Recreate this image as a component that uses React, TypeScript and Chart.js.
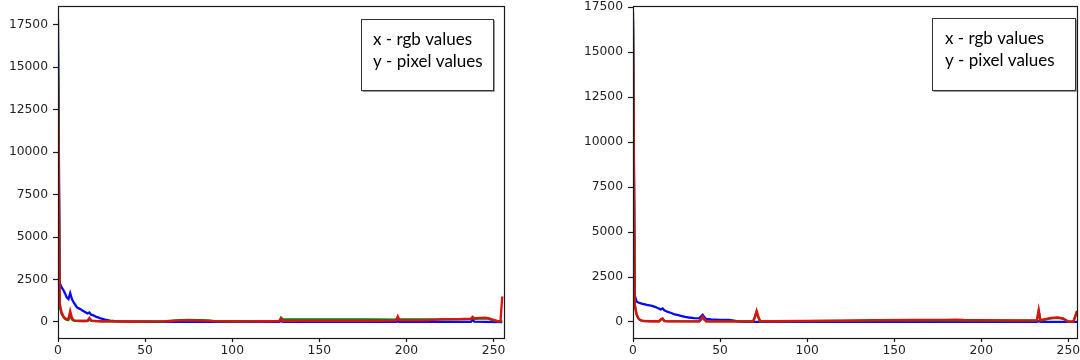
import React, { useEffect, useRef } from "react";
import { Chart, registerables } from "chart.js";

Chart.register(...registerables);

// ---------- text / ticks ----------
const LEGEND_LINES = ["x - rgb values", "y - pixel values"];
const X_TICKS = [0, 50, 100, 150, 200, 250];
const Y_TICKS = [0, 2500, 5000, 7500, 10000, 12500, 15000, 17500];

// ---------- left panel data (x = rgb value, y = pixel count) ----------
const leftBlueX = [0, 1, 2, 3, 4, 5, 6, 7, 8, 9, 10, 11, 12, 13, 14, 15, 16, 17, 18, 19, 20, 21, 22, 23, 24, 25, 26, 27, 28, 29, 30, 32, 35, 40, 50, 60, 80, 100, 127, 128, 129, 150, 194, 195, 196, 220, 237, 238, 239, 245, 255];
const leftBlueY = [17800, 2300, 2050, 1900, 1700, 1450, 1350, 1700, 1350, 1150, 1000, 850, 800, 750, 680, 620, 560, 500, 560, 430, 400, 350, 300, 270, 230, 200, 170, 140, 120, 100, 80, 60, 40, 25, 15, 10, 10, 10, 10, 60, 10, 10, 10, 40, 10, 10, 15, 110, 20, 10, 0];

const leftGreenX = [0, 1, 2, 3, 4, 5, 6, 7, 8, 9, 12, 17, 18, 19, 25, 40, 60, 65, 70, 75, 80, 85, 90, 100, 127, 128, 129, 140, 160, 180, 194, 195, 196, 220, 237, 238, 239, 245, 247, 250, 253, 255];
const leftGreenY = [16000, 900, 500, 300, 180, 120, 110, 400, 150, 80, 60, 60, 150, 60, 40, 35, 40, 70, 110, 120, 110, 90, 50, 45, 60, 250, 150, 160, 160, 150, 140, 250, 150, 160, 170, 230, 180, 220, 200, 100, 20, 60];

const leftRedX = [0, 1, 2, 3, 4, 5, 6, 7, 8, 9, 10, 12, 15, 17, 18, 19, 20, 25, 30, 40, 50, 60, 65, 70, 75, 80, 85, 90, 100, 110, 120, 127, 128, 129, 140, 160, 180, 194, 195, 196, 210, 220, 230, 237, 238, 239, 242, 245, 247, 250, 253, 254, 255];
const leftRedY = [14500, 1100, 600, 350, 220, 180, 200, 650, 250, 100, 80, 70, 60, 80, 240, 100, 60, 45, 35, 30, 25, 35, 60, 90, 100, 90, 80, 50, 40, 40, 45, 50, 200, 60, 65, 70, 70, 80, 330, 90, 100, 150, 170, 190, 300, 210, 240, 260, 230, 120, 40, 60, 1500];

// ---------- right panel data ----------
const rightBlueX = [0, 1, 2, 3, 5, 8, 11, 13, 15, 16, 17, 18, 20, 22, 24, 26, 28, 30, 32, 35, 38, 39, 40, 41, 42, 45, 50, 55, 58, 60, 65, 100, 150, 200, 232, 233, 234, 255];
const rightBlueY = [17200, 1500, 1150, 1080, 1020, 950, 890, 830, 740, 700, 750, 650, 560, 500, 420, 380, 330, 280, 250, 220, 200, 300, 400, 250, 170, 140, 120, 110, 80, 30, 10, 5, 5, 5, 5, 40, 5, 5];

const rightGreenX = [0, 1, 2, 3, 4, 6, 15, 16, 17, 18, 38, 39, 40, 41, 42, 69, 70, 71, 72, 73, 100, 150, 200, 232, 233, 234, 240, 244, 247, 250, 253, 255];
const rightGreenY = [16500, 950, 420, 200, 110, 55, 35, 130, 170, 50, 30, 120, 260, 120, 35, 35, 250, 550, 250, 40, 50, 90, 80, 80, 600, 80, 200, 230, 180, 20, 40, 560];

const rightRedX = [0, 1, 2, 3, 4, 5, 6, 10, 15, 16, 17, 18, 20, 30, 38, 39, 40, 41, 42, 50, 60, 69, 70, 71, 72, 73, 80, 100, 120, 140, 160, 180, 185, 190, 200, 220, 232, 233, 234, 236, 240, 244, 247, 250, 252, 253, 255];
const rightRedY = [16800, 1000, 450, 220, 120, 80, 60, 40, 40, 150, 200, 60, 35, 30, 30, 150, 300, 150, 40, 35, 35, 40, 300, 620, 300, 50, 40, 60, 80, 100, 110, 120, 130, 110, 100, 90, 100, 680, 100, 150, 230, 260, 200, 30, 10, 50, 620];

const BLUE = "#0a0af0";
const GREEN = "#0a800a";
const RED = "#dd1111";

type Series = { xs: number[]; ys: number[]; color: string; order: number };

type PanelProps = {
  left: number;
  width: number;
  yAxisWidth: number;
  padRight: number;
  xMax: number;
  yMin: number;
  yMax: number;
  series: Series[];
  box: { x: number; y: number; w: number; h: number; tx: number };
};

function Panel(p: PanelProps) {
  const ref = useRef<HTMLCanvasElement | null>(null);
  useEffect(() => {
    if (!ref.current) return;
    const framePlugin = {
      id: "frame",
      afterDraw(chart: any) {
        const ctx = chart.ctx as CanvasRenderingContext2D;
        const a = chart.chartArea;
        ctx.save();
        ctx.strokeStyle = "#1a1a1a";
        ctx.lineWidth = 1.2;
        ctx.strokeRect(Math.round(a.left) + 0.5, Math.round(a.top) + 0.5, Math.round(a.right - a.left), Math.round(a.bottom - a.top));
        // legend box
        const b = p.box;
        ctx.fillStyle = "#ffffff";
        ctx.fillRect(b.x, b.y, b.w, b.h);
        ctx.strokeStyle = "#9a9a9a";
        ctx.lineWidth = 1;
        ctx.beginPath();
        ctx.moveTo(b.x + 1.5, b.y + b.h + 1.5);
        ctx.lineTo(b.x + b.w + 1.5, b.y + b.h + 1.5);
        ctx.lineTo(b.x + b.w + 1.5, b.y + 1.5);
        ctx.stroke();
        ctx.strokeStyle = "#333333";
        ctx.strokeRect(b.x + 0.5, b.y + 0.5, b.w, b.h);
        ctx.fillStyle = "#000000";
        ctx.font = "17px Lato";
        ctx.textBaseline = "middle";
        ctx.textAlign = "left";
        LEGEND_LINES.forEach((t, i) => ctx.fillText(t, b.tx, b.y + 21 + i * 22));
        ctx.restore();
      },
    };
    const chart = new Chart(ref.current, {
      type: "line",
      data: {
        datasets: p.series.map((s) => ({
          data: s.xs.map((x, i) => ({ x, y: s.ys[i] })),
          borderColor: s.color,
          backgroundColor: s.color,
          borderWidth: 2.3,
          pointRadius: 0,
          tension: 0,
          fill: false,
          order: s.order,
        })),
      },
      options: {
        animation: false,
        responsive: false,
        maintainAspectRatio: false,
        events: [],
        layout: { padding: { top: 6, right: p.padRight, left: 0, bottom: 0 } },
        plugins: { legend: { display: false }, tooltip: { enabled: false } },
        scales: {
          x: {
            type: "linear",
            min: 0,
            max: p.xMax,
            afterBuildTicks: (s: any) => {
              s.ticks = X_TICKS.map((v) => ({ value: v }));
            },
            afterFit: (s: any) => {
              s.height = 22;
              s.paddingLeft = 0;
              s.paddingRight = 0;
            },
            grid: { drawOnChartArea: false, tickLength: 4, tickColor: "#1a1a1a", tickWidth: 1.2 },
            border: { display: false },
            ticks: {
              font: { family: "DejaVu Sans", size: 12.3 },
              color: "#222222",
              padding: 1,
              maxRotation: 0,
              autoSkip: false,
              callback: (v: any) => String(v),
            },
          },
          y: {
            type: "linear",
            min: p.yMin,
            max: p.yMax,
            afterBuildTicks: (s: any) => {
              s.ticks = Y_TICKS.map((v) => ({ value: v }));
            },
            afterFit: (s: any) => {
              s.width = p.yAxisWidth;
              s.paddingTop = 0;
              s.paddingBottom = 0;
            },
            grid: { drawOnChartArea: false, tickLength: 5, tickColor: "#1a1a1a", tickWidth: 1.2 },
            border: { display: false },
            ticks: {
              font: { family: "DejaVu Sans", size: 12.3 },
              color: "#222222",
              padding: 5,
              autoSkip: false,
              callback: (v: any) => String(v),
            },
          },
        },
      },
      plugins: [framePlugin],
    } as any);
    return () => chart.destroy();
  }, []);
  return (
    <canvas
      ref={ref}
      width={p.width}
      height={360}
      style={{ position: "absolute", left: p.left, top: 0, width: p.width, height: 360 }}
    />
  );
}

export default function App() {
  return (
    <div style={{ position: "fixed", left: 0, top: 0, width: 1080, height: 360, background: "#fff", overflow: "hidden" }}>
      <Panel
        left={0}
        width={540}
        yAxisWidth={58}
        padRight={36}
        xMax={256}
        yMin={-942}
        yMax={18600}
        series={[
          { xs: leftRedX, ys: leftRedY, color: RED, order: 1 },
          { xs: leftGreenX, ys: leftGreenY, color: GREEN, order: 2 },
          { xs: leftBlueX, ys: leftBlueY, color: BLUE, order: 3 },
        ]}
        box={{ x: 361, y: 19, w: 132, h: 71, tx: 373 }}
      />
      <Panel
        left={540}
        width={540}
        yAxisWidth={93}
        padRight={3}
        xMax={255}
        yMin={-890}
        yMax={17570}
        series={[
          { xs: rightRedX, ys: rightRedY, color: RED, order: 1 },
          { xs: rightGreenX, ys: rightGreenY, color: GREEN, order: 2 },
          { xs: rightBlueX, ys: rightBlueY, color: BLUE, order: 3 },
        ]}
        box={{ x: 392, y: 18, w: 143, h: 72, tx: 405 }}
      />
    </div>
  );
}
